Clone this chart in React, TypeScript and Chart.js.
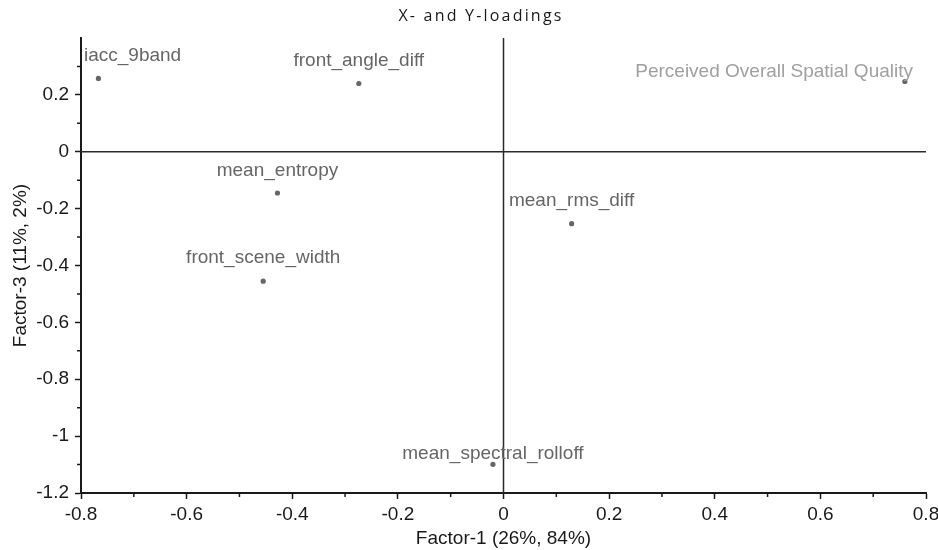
import React, { useEffect, useRef } from 'react';
import { Chart, registerables } from 'chart.js';

Chart.register(...registerables);

// ---- data ----
const variableNames = [
  'iacc_9band',
  'front_angle_diff',
  'Perceived Overall Spatial Quality',
  'mean_entropy',
  'mean_rms_diff',
  'front_scene_width',
  'mean_spectral_rolloff',
];
const factor1Loadings = [-0.767, -0.274, 0.760, -0.428, 0.129, -0.455, -0.020];
const factor3Loadings = [0.258, 0.240, 0.247, -0.145, -0.253, -0.455, -1.099];

const xRange = [-0.8, 0.8];
const yRange = [-1.2, 0.4];
const minorStep = 0.1;
const majorStep = 0.2;

const chartTitle = 'X- and Y-loadings';
const xTitle = 'Factor-1 (26%, 84%)';
const yTitle = 'Factor-3 (11%, 2%)';

// ---- styling ----
const FONT = '"Liberation Sans", Arial, sans-serif';
const INK = '#1a1a1a';
const labelLift = [17, 17.5, 4.5, 16.6, 18, 17.7, 5];
const labelTone = ['#666666', '#666666', '#a0a0a0', '#666666', '#666666', '#666666', '#666666'];

const isMajor = (v: number) => Math.abs(Math.round(v / minorStep)) % Math.round(majorStep / minorStep) === 0;
const fmt = (v: number) => String(Math.round(v * 10) / 10);

const overlayPlugin = {
  id: 'overlay',
  beforeDatasetsDraw(chart: any) {
    const { ctx, chartArea, scales } = chart;
    const x0 = scales.x.getPixelForValue(0);
    const y0 = scales.y.getPixelForValue(0);
    ctx.save();
    ctx.strokeStyle = '#2a2a2a';
    ctx.lineWidth = 1.5;
    ctx.beginPath();
    ctx.moveTo(chartArea.left, y0);
    ctx.lineTo(chartArea.right, y0);
    ctx.moveTo(x0, chartArea.top);
    ctx.lineTo(x0, chartArea.bottom);
    ctx.stroke();
    ctx.restore();
  },
  afterDatasetsDraw(chart: any) {
    const { ctx, chartArea } = chart;
    const meta = chart.getDatasetMeta(0);
    ctx.save();
    ctx.font = `19px ${FONT}`;
    ctx.textBaseline = 'alphabetic';
    ctx.textAlign = 'left';
    meta.data.forEach((pt: any, i: number) => {
      const text = variableNames[i];
      const w = ctx.measureText(text).width;
      let left = pt.x - w / 2;
      left = Math.max(chartArea.left + 3, Math.min(chartArea.right - 13 - w, left));
      ctx.fillStyle = labelTone[i];
      ctx.fillText(text, left, pt.y - labelLift[i]);
    });
    ctx.restore();
  },
  afterDraw(chart: any) {
    const { ctx, scales } = chart;
    ctx.save();
    // minor ticks
    ctx.strokeStyle = INK;
    ctx.lineWidth = 1.5;
    ctx.beginPath();
    scales.x.ticks.forEach((t: any) => {
      if (isMajor(t.value)) return;
      const px = scales.x.getPixelForValue(t.value);
      ctx.moveTo(px, scales.x.top);
      ctx.lineTo(px, scales.x.top + 4);
    });
    scales.y.ticks.forEach((t: any) => {
      if (isMajor(t.value)) return;
      const py = scales.y.getPixelForValue(t.value);
      ctx.moveTo(scales.y.right, py);
      ctx.lineTo(scales.y.right - 4, py);
    });
    ctx.stroke();
    // title
    ctx.fillStyle = INK;
    ctx.font = '16px "Open Sans", Lato, sans-serif';
    (ctx as any).letterSpacing = '2.2px';
    ctx.textAlign = 'center';
    ctx.textBaseline = 'alphabetic';
    ctx.fillText(chartTitle, 481, 21);
    ctx.restore();
  },
};

export default function App() {
  const ref = useRef<HTMLCanvasElement>(null);
  useEffect(() => {
    const canvas = ref.current;
    if (!canvas) return;
    const points = factor1Loadings.map((x, i) => ({ x, y: factor3Loadings[i] }));
    const tickColor = (c: any) => {
      const v = c.tick ? c.tick.value : 0;
      if (Math.abs(v - yRange[1]) < 1e-9 && c.scale.axis === 'y') return 'rgba(0,0,0,0)';
      return isMajor(v) ? INK : 'rgba(0,0,0,0)';
    };
    const chart = new Chart(canvas, {
      type: 'scatter',
      data: {
        datasets: [
          {
            data: points,
            pointRadius: 2.6,
            pointBackgroundColor: '#666666',
            pointBorderWidth: 0,
            pointHoverRadius: 2.6,
          },
        ],
      },
      options: {
        animation: false,
        responsive: false,
        devicePixelRatio: 1,
        layout: { padding: { top: 38, right: 12, left: 0, bottom: 0 } },
        plugins: { legend: { display: false }, tooltip: { enabled: false }, title: { display: false } },
        scales: {
          x: {
            type: 'linear',
            min: xRange[0],
            max: xRange[1],
            ticks: {
              stepSize: minorStep,
              autoSkip: false,
              maxRotation: 0,
              padding: 4,
              color: INK,
              font: { family: FONT, size: 19 },
              callback: (v: any) => (isMajor(v) ? fmt(v) : ''),
            },
            grid: {
              drawOnChartArea: false,
              drawTicks: true,
              tickLength: 6,
              tickWidth: 1.5,
              tickColor,
            },
            border: { display: true, color: INK, width: 2 },
            title: {
              display: true,
              text: xTitle,
              color: INK,
              font: { family: FONT, size: 19 },
              padding: { top: 0, bottom: 0 },
            },
            afterFit: (s: any) => {
              s.height = 57;
              s.paddingLeft = 0;
              s.paddingRight = 0;
            },
          },
          y: {
            type: 'linear',
            min: yRange[0],
            max: yRange[1],
            ticks: {
              stepSize: minorStep,
              autoSkip: false,
              padding: 6,
              color: INK,
              font: { family: FONT, size: 19 },
              callback: (v: any) => (isMajor(v) && Math.abs(v - yRange[1]) > 1e-9 ? fmt(v) : ''),
            },
            grid: {
              drawOnChartArea: false,
              drawTicks: true,
              tickLength: 6,
              tickWidth: 1.5,
              tickColor,
            },
            border: { display: true, color: INK, width: 2 },
            title: {
              display: true,
              text: yTitle,
              color: INK,
              font: { family: FONT, size: 19 },
              padding: { top: 9, bottom: 0 },
            },
            afterFit: (s: any) => {
              s.width = 81;
              s.paddingTop = 0;
              s.paddingBottom = 0;
            },
          },
        },
      },
      plugins: [overlayPlugin],
    } as any);
    return () => chart.destroy();
  }, []);
  return (
    <div style={{ position: 'fixed', left: 0, top: 0, width: 938, height: 550, background: '#fff' }}>
      <canvas ref={ref} width={938} height={550} style={{ display: 'block', width: 938, height: 550 }} />
    </div>
  );
}
